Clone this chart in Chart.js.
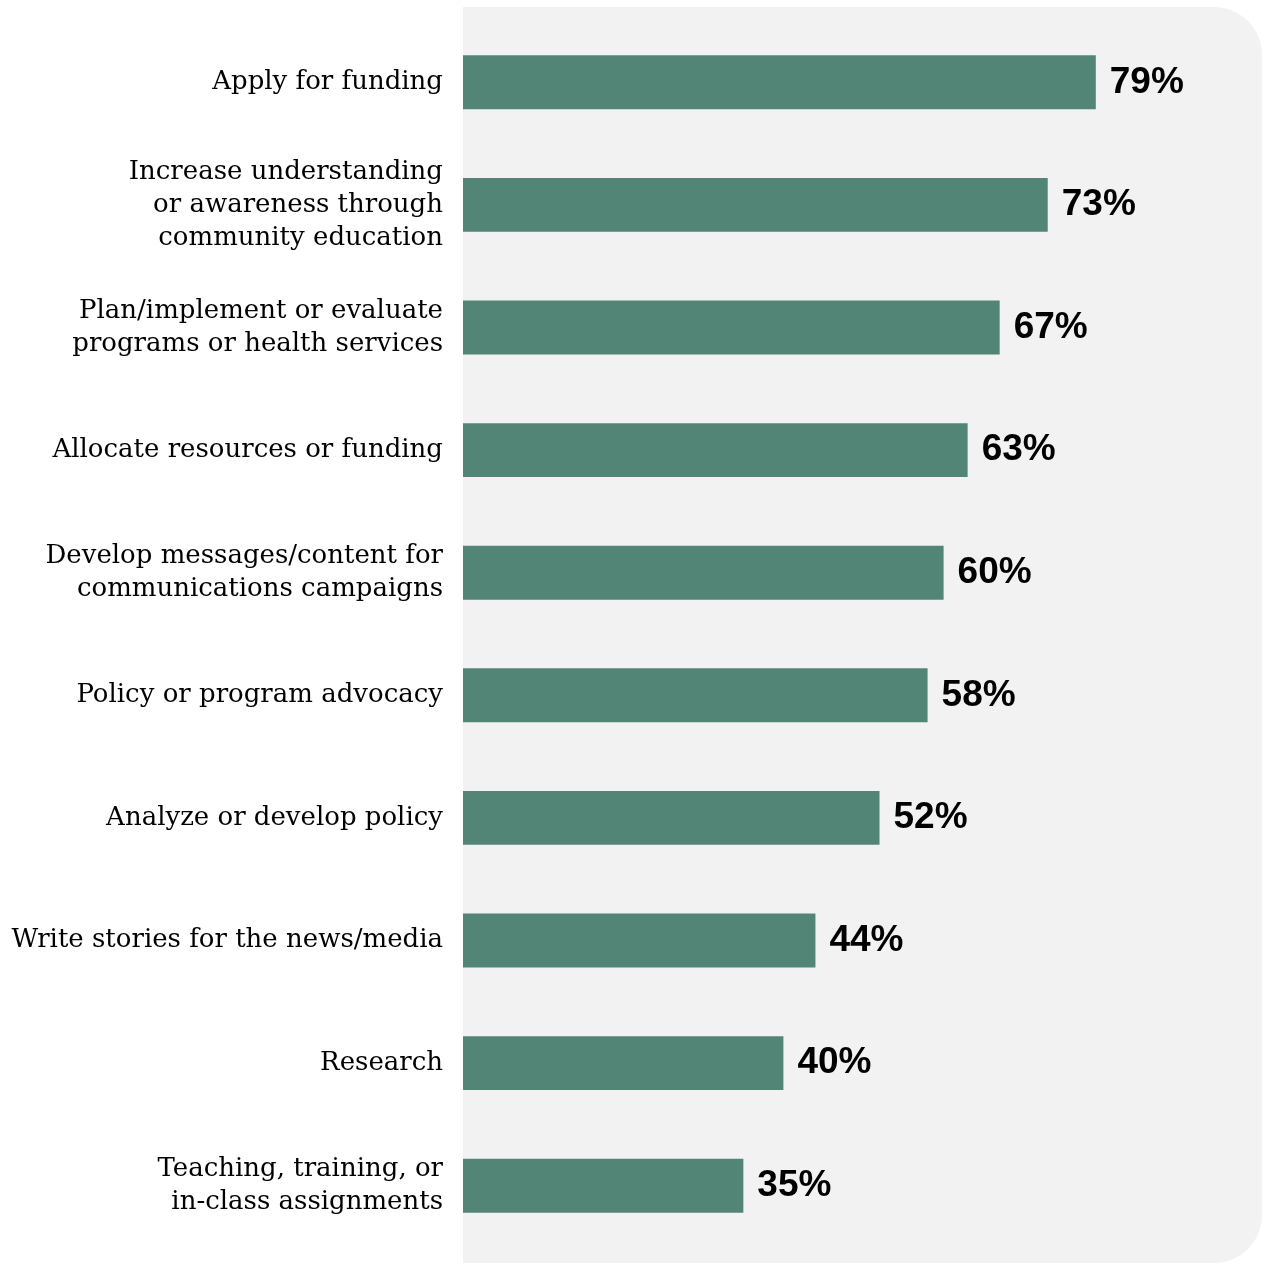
<!DOCTYPE html>
<html>
<head>
<meta charset="utf-8">
<script src="https://cdn.jsdelivr.net/npm/chart.js@4/dist/chart.umd.min.js"></script>
<style>
  html, body { margin: 0; padding: 0; background: #fff; }
  #wrap { width: 1264px; height: 1264px; }
</style>
</head>
<body>
<div id="wrap"><canvas id="myChart"></canvas></div>
<script>
// data
const labels = [
    'Apply for funding',
    ['Increase understanding', 'or awareness through', 'community education'],
    ['Plan/implement or evaluate', 'programs or health services'],
    'Allocate resources or funding',
    ['Develop messages/content for', 'communications campaigns'],
    'Policy or program advocacy',
    'Analyze or develop policy',
    'Write stories for the news/media',
    'Research',
    ['Teaching, training, or', 'in-class assignments']
];
const values = [79, 73, 67, 63, 60, 58, 52, 44, 40, 35];

// grey panel behind the bars
const panelBg = {
    id: 'panelBg',
    beforeDraw(chart) {
        const ctx = chart.ctx;
        const left = chart.chartArea.left;
        const right = chart.width - 2;
        const top = 7;
        const bottom = chart.height - 1;
        const r = 48;
        ctx.save();
        ctx.fillStyle = '#f2f2f2';
        ctx.beginPath();
        ctx.moveTo(left, top);
        ctx.lineTo(right - r, top);
        ctx.arcTo(right, top, right, top + r, r);
        ctx.lineTo(right, bottom - r);
        ctx.arcTo(right, bottom, right - r, bottom, r);
        ctx.lineTo(left, bottom);
        ctx.closePath();
        ctx.fill();
        ctx.restore();
    }
};

// value labels at bar ends
const valueLabels = {
    id: 'valueLabels',
    afterDatasetsDraw(chart) {
        const ctx = chart.ctx;
        const meta = chart.getDatasetMeta(0);
        ctx.save();
        ctx.font = 'bold 37px "Liberation Sans", Arial, sans-serif';
        ctx.fillStyle = '#000';
        ctx.textAlign = 'left';
        ctx.textBaseline = 'middle';
        meta.data.forEach((bar, i) => {
            ctx.fillText(values[i] + '%', bar.x + 14, bar.y);
        });
        ctx.restore();
    }
};

const mct = document.getElementById('myChart');

const myChart = new Chart(mct, {
    type: 'bar',
    data: {
        labels: labels,
        datasets: [{
            data: values,
            backgroundColor: '#538577',
            borderWidth: 0,
            barPercentage: 0.88,
            categoryPercentage: 0.5
        }]
    },
    options: {
        indexAxis: 'y',
        responsive: true,
        maintainAspectRatio: false,
        animation: false,
        layout: { padding: { top: 21, bottom: 17, right: 0, left: 0 } },
        plugins: {
            legend: { display: false },
            tooltip: { enabled: false }
        },
        scales: {
            x: {
                display: false,
                min: 0,
                max: 100
            },
            y: {
                grid: { display: false, drawTicks: false },
                border: { display: false },
                afterFit(scale) {
                    scale.width = 463;
                    scale.paddingTop = 0;
                    scale.paddingBottom = 0;
                },
                ticks: {
                    color: '#000',
                    padding: 20,
                    font: { family: '"DejaVu Serif", serif', size: 26, lineHeight: 1.27 }
                }
            }
        }
    },
    plugins: [panelBg, valueLabels]
});
</script>
</body>
</html>
